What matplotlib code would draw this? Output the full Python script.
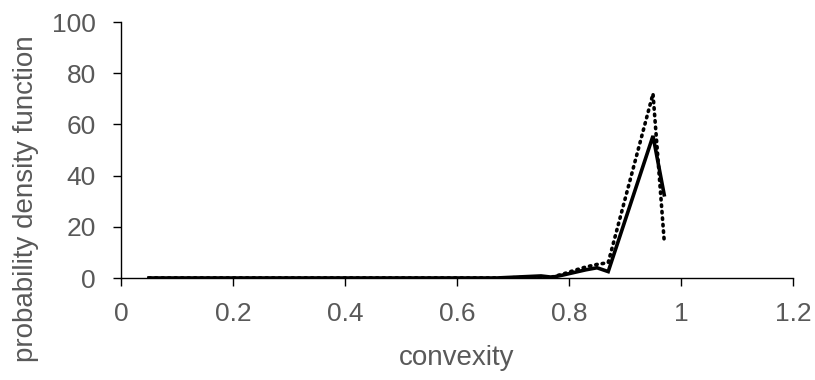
import numpy as np
import matplotlib.pyplot as plt

plt.rcParams['font.family'] = ['Liberation Sans', 'DejaVu Sans']

# convexity bin centres and two density curves
convexity = [0.05, 0.15, 0.25, 0.35, 0.45, 0.55, 0.65, 0.67, 0.75, 0.77,
             0.79, 0.81, 0.83, 0.85, 0.87, 0.95, 0.97]
pdf_solid = [0.0, 0.0, 0.0, 0.0, 0.0, 0.0, 0.0, 0.0, 0.8, 0.3,
             1.2, 2.2, 3.2, 4.0, 2.5, 55.5, 32.5]
pdf_dotted = [0.0, 0.0, 0.0, 0.0, 0.0, 0.0, 0.0, 0.0, 0.3, 0.4,
              1.6, 3.0, 4.3, 5.3, 6.0, 72.0, 14.5]

xticks = [0, 0.2, 0.4, 0.6, 0.8, 1, 1.2]
xticklabels = ['0', '0.2', '0.4', '0.6', '0.8', '1', '1.2']
yticks = [0, 20, 40, 60, 80, 100]

fig = plt.figure(figsize=(8.15, 3.8), dpi=100)
ax = fig.add_axes([121/815, 1-278/380, (793-121)/815, (278-22)/380])

ax.plot(convexity, pdf_solid, color='black', lw=2.6, solid_joinstyle='miter')
ax.plot(convexity, pdf_dotted, color='black', lw=2.6, linestyle=(0, (0.4, 1.4)),
        dash_capstyle='round')

ax.set_xlim(0, 1.2)
ax.set_ylim(0, 100)
ax.set_xticks(xticks)
ax.set_xticklabels(xticklabels)
ax.set_yticks(yticks)

for s in ['top', 'right']:
    ax.spines[s].set_visible(False)
for s in ['left', 'bottom']:
    ax.spines[s].set_color('black')
    ax.spines[s].set_linewidth(1.0)

ax.tick_params(axis='both', direction='out', length=6, width=1.0,
               labelsize=19, labelcolor='#595959', color='black')
ax.tick_params(axis='x', pad=11)
ax.tick_params(axis='y', pad=12)
ax.set_xlabel('convexity', fontsize=20, color='#595959', labelpad=14)
ax.set_ylabel('probability density function', fontsize=20, color='#595959')
ax.yaxis.set_label_coords(-0.122, 0.31)

fig.savefig('out.png', dpi=100)
